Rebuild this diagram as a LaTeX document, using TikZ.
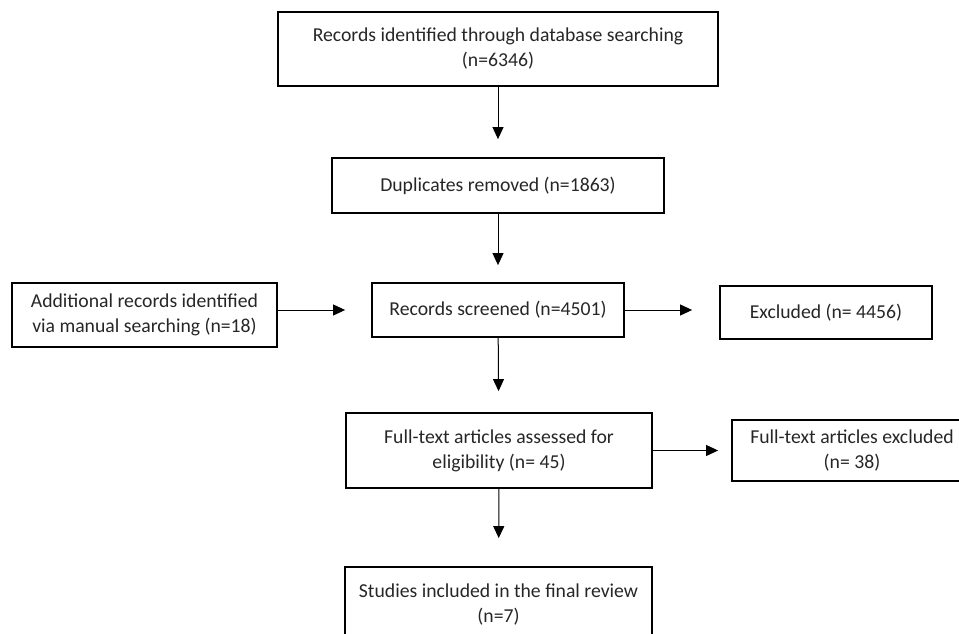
\documentclass[tikz,border=0pt]{standalone}
\usepackage{fontspec}
\setmainfont{Carlito}
\usetikzlibrary{arrows.meta}
\begin{document}
\begin{tikzpicture}[x=1pt,y=-1pt,
  box/.style={draw=black, line width=1.8pt, inner sep=0pt, align=center,
    font=\fontsize{19.7}{25}\selectfont, text=black!85},
  conn/.style={line width=1pt, -{Triangle[length=12pt,width=11pt]}}]
\useasboundingbox (0,0) rectangle (959,634);
\clip (0,0) rectangle (959,634);
\node[box, minimum width=440pt, minimum height=74pt] (rec) at (498,49)
  {Records identified through database searching\\(n=6346)};
\node[box, minimum width=332pt, minimum height=55pt] (dup) at (498,185.5)
  {Duplicates removed (n=1863)};
\node[box, minimum width=252pt, minimum height=54pt] (scr) at (498,310)
  {Records screened (n=4501)};
\node[box, minimum width=265pt, minimum height=64pt] (add) at (144.5,315)
  {Additional records identified\\via manual searching (n=18)};
\node[box, minimum width=212pt, minimum height=53pt] (exc) at (826,312.5)
  {Excluded (n= 4456)};
\node[box, minimum width=306pt, minimum height=75pt] (ass) at (499,450.5)
  {Full-text articles assessed for\\eligibility (n= 45)};
\node[box, minimum width=240pt, minimum height=61pt] (fte) at (852,450.5)
  {Full-text articles excluded\\(n= 38)};
\node[box, minimum width=307pt, minimum height=76pt] (stu) at (498.5,605)
  {Studies included in the final review\\(n=7)};
\draw[conn, shorten >=18pt] (rec) -- (dup);
\draw[conn, shorten >=17pt] (dup) -- (scr);
\draw[conn, shorten >=26pt] (add.east |- scr.west) -- (scr.west);
\draw[conn, shorten >=27pt] (scr.east) -- (scr.east -| exc.west);
\draw[conn, shorten >=21pt] (scr) -- (ass);
\draw[conn, shorten >=13pt] (ass) -- (fte);
\draw[conn, shorten >=28pt] (ass) -- (stu);
\end{tikzpicture}
\end{document}
